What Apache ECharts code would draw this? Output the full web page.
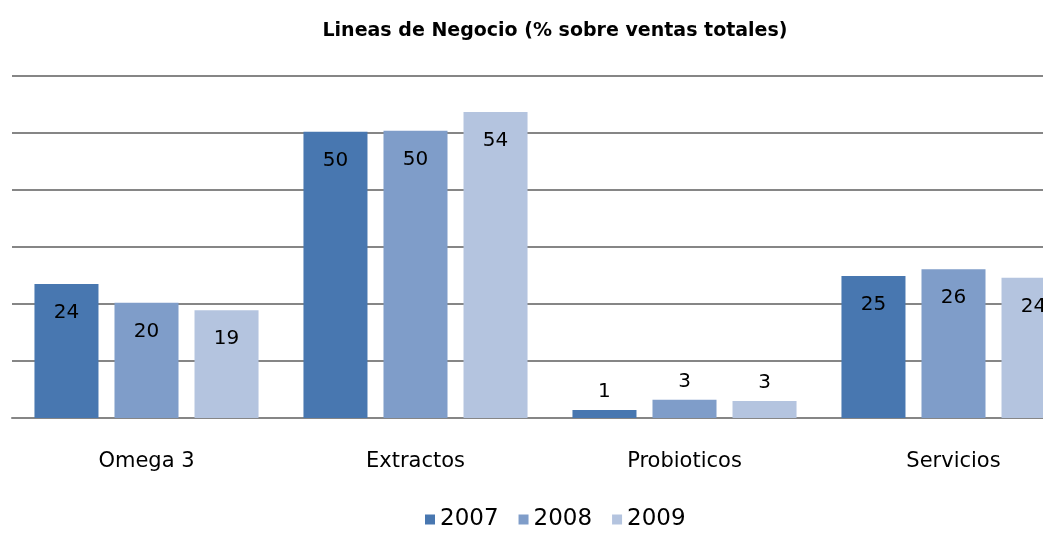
<!DOCTYPE html>
<html>
<head>
<meta charset="utf-8">
<script src="https://cdn.jsdelivr.net/npm/echarts@6/dist/echarts.min.js"></script>
<style>html,body{margin:0;padding:0;background:#fff;overflow:hidden;width:1043px;height:538px}#c{width:1088px;height:538px}</style>
</head>
<body>
<div id="c"></div>
<script>
const categories = ['Omega 3', 'Extractos', 'Probioticos', 'Servicios'];
const years = ['2007', '2008', '2009'];
const values2007 = [24, 50, 1, 25];
const values2008 = [20, 50, 3, 26];
const values2009 = [19, 54, 3, 24];
const heights2007 = [23.5, 50.2, 1.4, 24.9];
const heights2008 = [20.2, 50.4, 3.2, 26.1];
const heights2009 = [18.9, 53.7, 3.0, 24.6];
const colors = ['#4877B0', '#7F9DC9', '#B4C4DF'];

const chart = echarts.init(document.getElementById('c'));
const font = '"DejaVu Sans", sans-serif';
function mk(name, heights, labels, color) {
  return {
    name: name, type: 'bar', barGap: '25%', barCategoryGap: '16.7%',
    data: heights.map((h, i) => {
      const small = h < 8;
      return { value: h, label: small
        ? { formatter: String(labels[i]), position: 'top', distance: 8 }
        : { formatter: String(labels[i]) } };
    }),
    itemStyle: { color: color },
    label: { show: true, position: 'insideTop', distance: 19, color: '#000', fontSize: 20, fontFamily: font },
    z: 3
  };
}
chart.setOption({
  animation: false,
  title: { text: 'Lineas de Negocio (% sobre ventas totales)', left: 550, textAlign: 'center', top: 17,
    textStyle: { fontSize: 19, fontWeight: 'bold', color: '#000', fontFamily: font } },
  legend: { bottom: 2, left: 420, itemWidth: 10, itemHeight: 10, itemGap: 20,
    textStyle: { fontSize: 23, color: '#000', fontFamily: font }, icon: 'rect' },
  grid: { left: 12, right: 0, top: 76, bottom: 120, containLabel: false },
  xAxis: { type: 'category', data: categories,
    axisLine: { lineStyle: { color: '#868686', width: 2 } }, axisTick: { show: false },
    axisLabel: { fontSize: 21, color: '#000', margin: 33, fontFamily: font } },
  yAxis: { type: 'value', min: 0, max: 60, interval: 10,
    axisLabel: { show: false }, axisLine: { show: false }, axisTick: { show: false },
    splitLine: { lineStyle: { color: '#868686', width: 2 } } },
  series: [
    mk(years[0], heights2007, values2007, colors[0]),
    mk(years[1], heights2008, values2008, colors[1]),
    mk(years[2], heights2009, values2009, colors[2])
  ]
});
</script>
</body>
</html>
